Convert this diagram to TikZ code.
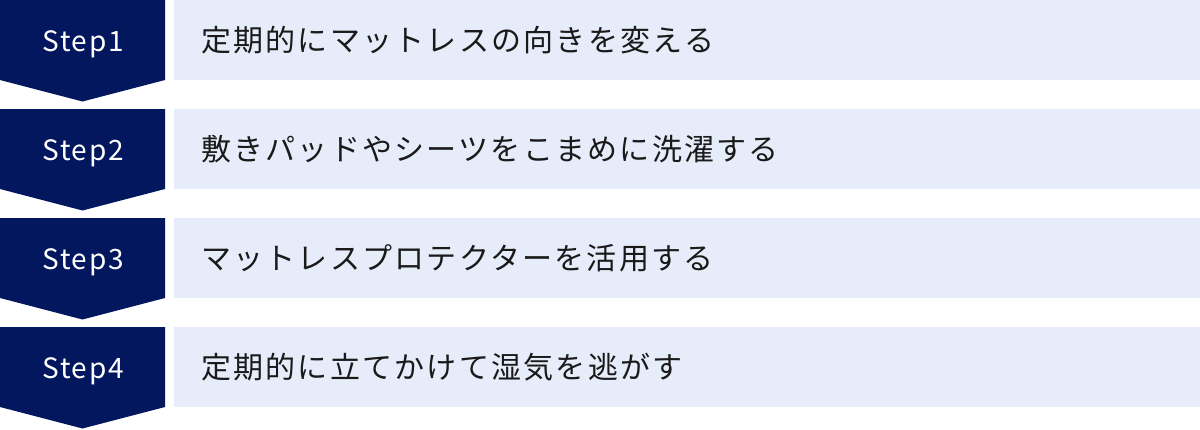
\documentclass[tikz,border=0pt]{standalone}
\usepackage{fontspec}
\newfontfamily\jp[LetterSpace=7.5]{Noto Sans CJK JP}
\newfontfamily\lat[LetterSpace=6]{Noto Sans CJK JP}
\definecolor{navy}{HTML}{03175F}
\definecolor{pale}{HTML}{E6ECF9}
\definecolor{ink}{HTML}{1A1A1A}
\tikzset{
  stepshape/.style={fill=navy, draw=none},
  barbox/.style={fill=pale, draw=none},
  steplabel/.style={text=white, font=\lat\fontsize{28}{32}\selectfont, anchor=base, inner sep=0pt},
  bartext/.style={text=ink, font=\jp\fontsize{30}{36}\selectfont, anchor=base west, inner sep=0pt}
}
\begin{document}
\begin{tikzpicture}[x=1pt,y=-1pt]
\useasboundingbox (0,0) rectangle (1200,429);
\foreach \i/\lab/\txt in {0/Step1/定期的にマットレスの向きを変える,1/Step2/敷きパッドやシーツをこまめに洗濯する,2/Step3/マットレスプロテクターを活用する,3/Step4/定期的に立てかけて湿気を逃がす}{
  \pgfmathsetmacro{\t}{109*\i}
  \fill[stepshape] (0,\t) -- (165,\t) -- (165,\t+80) -- (82.5,\t+101.5) -- (0,\t+80) -- cycle;
  \fill[barbox] (174,\t) rectangle (1200,\t+80);
  \node[steplabel] (s\i) at (83,\t+51.5) {\lab};
  \node[bartext] (b\i) at (201,\t+51) {\txt};
}
\end{tikzpicture}
\end{document}
